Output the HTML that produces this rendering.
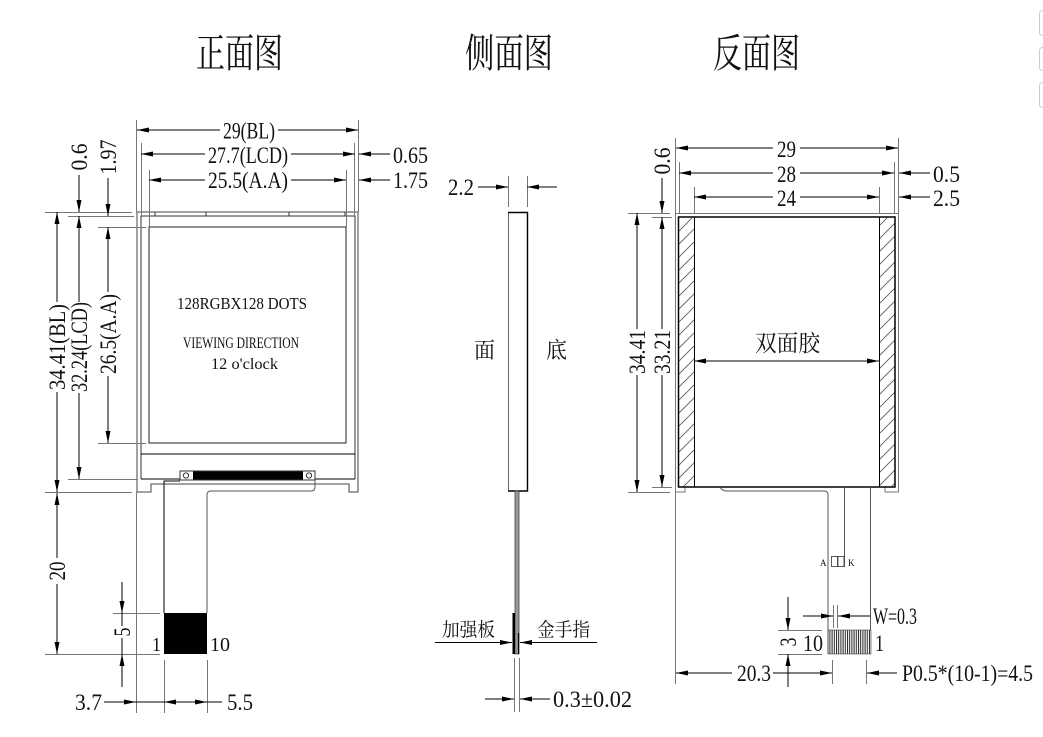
<!DOCTYPE html>
<html><head><meta charset="utf-8"><style>
html,body{margin:0;padding:0;background:#fff;}
svg{display:block;}
.d{stroke:#000;stroke-width:1;fill:none;marker-end:url(#a);}
.l{stroke:#000;stroke-width:1;fill:none;}
.e{stroke:#777;stroke-width:1;fill:none;}
.t{font-family:"Liberation Serif",serif;font-size:23px;fill:#111;}
.c{font-family:"Liberation Serif","Noto Serif CJK SC",serif;fill:#111;}
</style></head><body>
<svg width="1043" height="737" viewBox="0 0 1043 737" xmlns="http://www.w3.org/2000/svg">
<defs>
<marker id="a" viewBox="0 0 12 5" refX="12" refY="2.5" markerWidth="12" markerHeight="5" markerUnits="userSpaceOnUse" orient="auto"><path d="M0,0 L12,2.5 L0,5 Z" fill="#000"/></marker>
<pattern id="h" width="13" height="13" patternUnits="userSpaceOnUse"><path d="M0,13 L13,0 M-2,2 L2,-2 M11,15 L15,11" stroke="#555" stroke-width="0.8"/></pattern>
<pattern id="g" width="2.2" height="10" patternUnits="userSpaceOnUse"><rect width="1" height="10" fill="#222"/></pattern>
</defs>
<rect width="1043" height="737" fill="#fff"/>

<!-- Titles -->
<text class="c" x="196" y="67" font-size="40" textLength="87" lengthAdjust="spacingAndGlyphs">正面图</text>
<text class="c" x="465" y="67" font-size="40" textLength="88" lengthAdjust="spacingAndGlyphs">侧面图</text>
<text class="c" x="713" y="67" font-size="40" textLength="87" lengthAdjust="spacingAndGlyphs">反面图</text>

<!-- right edge artifacts -->
<rect x="1039.5" y="10.5" width="10" height="25" rx="3" fill="none" stroke="#ccc"/>
<rect x="1039.5" y="47.5" width="10" height="23" rx="3" fill="none" stroke="#ccc"/>
<rect x="1039.5" y="82.5" width="10" height="25" rx="3" fill="none" stroke="#ccc"/>

<!-- ================= FRONT VIEW ================= -->
<path d="M137,492 V212 H358 V492 H349 V484 H151 V492 Z" fill="none" stroke="#444" stroke-width="1"/>
<path d="M141,479 V216 H355 V479" fill="none" stroke="#333" stroke-width="1"/>
<path d="M141,479 H180 M315,479 H355" class="l"/>
<path d="M155,212 V216 H206 V212 M289,212 V216 H345 V212" fill="none" stroke="#333" stroke-width="1"/>
<rect x="149" y="227" width="197" height="216" fill="none" stroke="#222" stroke-width="1"/>
<path d="M141,454 H355" class="l"/>
<!-- connector -->
<rect x="180" y="471" width="135" height="9" fill="none" stroke="#333" stroke-width="1"/>
<rect x="193" y="471.5" width="110" height="8" fill="#000"/>
<circle cx="186" cy="475.5" r="2.6" fill="none" stroke="#333"/>
<circle cx="309" cy="475.5" r="2.6" fill="none" stroke="#333"/>
<!-- FPC -->
<path d="M180,481 H164 V613" class="l"/>
<path d="M315,480 V487 Q315,491 311,491 H211 Q207,491 207,495 V613" fill="none" stroke="#555" stroke-width="1"/>
<rect x="164" y="613" width="43" height="41" fill="#000"/>
<text class="t" x="152" y="651" style="font-size:20px" textLength="9" lengthAdjust="spacingAndGlyphs">1</text>
<text class="t" x="210" y="651" style="font-size:20px" textLength="20" lengthAdjust="spacingAndGlyphs">10</text>
<!-- inner texts -->
<text class="t" x="177" y="309" style="font-size:17px" textLength="130" lengthAdjust="spacingAndGlyphs">128RGBX128 DOTS</text>
<text class="t" x="183" y="348" style="font-size:16px" textLength="116" lengthAdjust="spacingAndGlyphs">VIEWING DIRECTION</text>
<text class="t" x="211" y="369" style="font-size:16px" textLength="67" lengthAdjust="spacingAndGlyphs">12 o'clock</text>

<!-- front top dims -->
<path class="e" d="M136.5,120 V212 M358.5,120 V212 M141.5,143 V216 M354.5,143 V216 M149.5,170 V227 M346.5,170 V227"/>
<path class="d" d="M220,130H137"/><path class="d" d="M278,130H358"/>
<text class="t" x="223" y="138.5" textLength="52" lengthAdjust="spacingAndGlyphs">29(BL)</text>
<path class="d" d="M205,154H141"/><path class="d" d="M291,154H355"/>
<text class="t" x="208" y="163" textLength="80" lengthAdjust="spacingAndGlyphs">27.7(LCD)</text>
<path class="d" d="M205,180H149"/><path class="d" d="M291,180H346"/>
<text class="t" x="208" y="188" textLength="80" lengthAdjust="spacingAndGlyphs">25.5(A.A)</text>
<path class="d" d="M390,154H359"/>
<text class="t" x="393" y="163" textLength="35" lengthAdjust="spacingAndGlyphs">0.65</text>
<path class="d" d="M390,180H359"/>
<text class="t" x="393" y="188" textLength="35" lengthAdjust="spacingAndGlyphs">1.75</text>

<!-- front left dims -->
<path class="e" d="M45,212.5H132 M68,216.5H134 M98,227.5H146 M98,443.5H146 M68,479.5H138 M45,492.5H132 M113,613.5H160 M45,654.5H160"/>
<path class="d" d="M57,302V212"/><path class="d" d="M57,392V492"/>
<text class="t" transform="translate(65,347) rotate(-90)" text-anchor="middle" textLength="86" lengthAdjust="spacingAndGlyphs">34.41(BL)</text>
<text class="t" transform="translate(87,157) rotate(-90)" text-anchor="middle" textLength="27" lengthAdjust="spacingAndGlyphs">0.6</text>
<path class="d" d="M79,175V212"/><path class="d" d="M79,302V216"/><path class="d" d="M79,393V479"/>
<text class="t" transform="translate(87,347) rotate(-90)" text-anchor="middle" textLength="90" lengthAdjust="spacingAndGlyphs">32.24(LCD)</text>
<text class="t" transform="translate(116,157) rotate(-90)" text-anchor="middle" textLength="35" lengthAdjust="spacingAndGlyphs">1.97</text>
<path class="d" d="M108,178V216"/><path class="d" d="M108,292V227"/><path class="d" d="M108,376V443"/>
<text class="t" transform="translate(116,334) rotate(-90)" text-anchor="middle" textLength="80" lengthAdjust="spacingAndGlyphs">26.5(A.A)</text>
<path class="d" d="M57,558V493"/><path class="d" d="M57,584V654"/>
<text class="t" transform="translate(65,571) rotate(-90)" text-anchor="middle" textLength="19" lengthAdjust="spacingAndGlyphs">20</text>
<path class="d" d="M122,582V613"/><path class="l" d="M122,613V626 M122,638V654"/><path class="d" d="M122,687V654"/>
<text class="t" transform="translate(130,632) rotate(-90)" text-anchor="middle" textLength="9" lengthAdjust="spacingAndGlyphs">5</text>

<!-- front bottom dims -->
<path class="e" d="M136.5,492V713 M164.5,660V713 M207.5,660V713"/>
<path class="d" d="M104,702H136"/><path class="l" d="M136,702H164 M207,702H222"/>
<path class="d" d="M186,702H164"/><path class="d" d="M186,702H207"/>
<text class="t" x="75" y="710" textLength="27" lengthAdjust="spacingAndGlyphs">3.7</text>
<text class="t" x="227" y="710" textLength="26" lengthAdjust="spacingAndGlyphs">5.5</text>

<!-- ================= SIDE VIEW ================= -->
<path d="M508.5,491 V212.5 H527" fill="none" stroke="#666" stroke-width="1"/>
<path d="M508,212.5 H527.5 V491 H508" fill="none" stroke="#000" stroke-width="1.4"/>
<path class="e" d="M508.5,176V207 M527.5,176V207"/>
<path class="d" d="M478,187H508"/><path class="d" d="M557,187H527"/>
<text class="t" x="448" y="195" textLength="26" lengthAdjust="spacingAndGlyphs">2.2</text>
<text class="c" x="474" y="358" font-size="22" textLength="21" lengthAdjust="spacingAndGlyphs">面</text>
<text class="c" x="546" y="358" font-size="22" textLength="21" lengthAdjust="spacingAndGlyphs">底</text>
<rect x="515" y="491" width="4" height="163" fill="#999" stroke="#444" stroke-width="0.8"/>
<rect x="512.5" y="613" width="2.5" height="41" fill="#000"/>
<path d="M518.5,633V654" stroke="#000" stroke-width="1.2"/>
<text class="c" x="442" y="636" font-size="19" textLength="53" lengthAdjust="spacingAndGlyphs">加强板</text>
<path class="d" d="M435,642.5H512"/>
<text class="c" x="537" y="636" font-size="19" textLength="53" lengthAdjust="spacingAndGlyphs">金手指</text>
<path class="d" d="M597,642.5H520"/>
<path class="e" d="M514.5,658V712 M519.5,658V712"/>
<path class="d" d="M485,699H514"/><path class="d" d="M550,699H520"/>
<text class="t" x="553" y="707" textLength="79" lengthAdjust="spacingAndGlyphs">0.3±0.02</text>

<!-- ================= BACK VIEW ================= -->
<rect x="679" y="218" width="15" height="269" fill="url(#h)"/>
<rect x="879" y="218" width="16" height="269" fill="url(#h)"/>
<path d="M675.5,492 V213.5 H898.5 V492 H885 V487.5 M675.5,492 H685 V487.5" fill="none" stroke="#777" stroke-width="1"/>
<rect x="678.5" y="217" width="216.5" height="270" fill="none" stroke="#000" stroke-width="1.5"/>
<path class="l" d="M694.5,217V487 M879.5,217V487"/>
<text class="c" x="755" y="351" font-size="23" textLength="65" lengthAdjust="spacingAndGlyphs">双面胶</text>
<path class="d" d="M787,361H694"/><path class="d" d="M787,361H879"/>
<!-- back FPC -->
<path d="M720,487 Q722,491 727,491 H824 Q828,491 828,495 V654" fill="none" stroke="#555" stroke-width="1"/>
<path d="M844.5,487V567 M870.5,487V630" fill="none" stroke="#555" stroke-width="1"/>
<rect x="831.5" y="556.5" width="6" height="10" fill="none" stroke="#333" stroke-width="0.8"/>
<rect x="838" y="556.5" width="6" height="10" fill="none" stroke="#333" stroke-width="0.8"/>
<text class="t" x="820" y="566" style="font-size:9px">A</text>
<text class="t" x="848" y="566" style="font-size:9px">K</text>
<rect x="828" y="630" width="43" height="24" fill="url(#g)"/>
<rect x="828" y="630" width="43" height="24" fill="none" stroke="#444" stroke-width="0.6"/>
<!-- W=0.3 -->
<path class="e" d="M833.5,605V628 M837.5,605V628"/>
<path class="d" d="M803,616H833"/><path class="d" d="M870,616H838"/>
<text class="t" x="873" y="624" textLength="44" lengthAdjust="spacingAndGlyphs">W=0.3</text>
<!-- 3 -->
<path class="e" d="M778,630.5H822 M778,654.5H822"/>
<path class="d" d="M788,597V630"/><path class="d" d="M788,687V654"/>
<text class="t" transform="translate(796,642) rotate(-90)" text-anchor="middle" textLength="9" lengthAdjust="spacingAndGlyphs">3</text>
<text class="t" x="803" y="651" textLength="20" lengthAdjust="spacingAndGlyphs">10</text>
<text class="t" x="875" y="651" textLength="9" lengthAdjust="spacingAndGlyphs">1</text>
<!-- 20.3 / pitch -->
<path class="e" d="M675.5,492V684 M832.5,660V684 M866.5,660V684"/>
<path class="d" d="M732,673H676"/><path class="d" d="M773,673H832"/><path class="d" d="M897,673H867"/>
<text class="t" x="737" y="681" textLength="34" lengthAdjust="spacingAndGlyphs">20.3</text>
<text class="t" x="902" y="681" textLength="131" lengthAdjust="spacingAndGlyphs">P0.5*(10-1)=4.5</text>
<!-- back top dims -->
<path class="e" d="M675.5,138V213 M898.5,138V213 M679.5,162V213 M894.5,162V213 M694.5,187V213 M879.5,187V213"/>
<path class="d" d="M773,148H676"/><path class="d" d="M800,148H898"/>
<text class="t" x="777" y="157" textLength="19" lengthAdjust="spacingAndGlyphs">29</text>
<path class="d" d="M773,173H679"/><path class="d" d="M800,173H894"/>
<text class="t" x="777" y="182" textLength="19" lengthAdjust="spacingAndGlyphs">28</text>
<path class="d" d="M773,197H694"/><path class="d" d="M800,197H879"/>
<text class="t" x="777" y="206" textLength="19" lengthAdjust="spacingAndGlyphs">24</text>
<path class="d" d="M930,173H899"/>
<text class="t" x="933" y="182" textLength="27" lengthAdjust="spacingAndGlyphs">0.5</text>
<path class="d" d="M930,197H899"/>
<text class="t" x="933" y="206" textLength="27" lengthAdjust="spacingAndGlyphs">2.5</text>
<!-- back left dims -->
<path class="e" d="M628,213.5H670 M652,217.5H672 M652,487.5H672 M628,492.5H670"/>
<text class="t" transform="translate(670,161) rotate(-90)" text-anchor="middle" textLength="27" lengthAdjust="spacingAndGlyphs">0.6</text>
<path class="d" d="M662,178V213"/><path class="d" d="M662,329V217"/><path class="d" d="M662,375V487"/>
<text class="t" transform="translate(670,352) rotate(-90)" text-anchor="middle" textLength="44" lengthAdjust="spacingAndGlyphs">33.21</text>
<path class="d" d="M637,329V213"/><path class="d" d="M637,375V492"/>
<text class="t" transform="translate(645,352) rotate(-90)" text-anchor="middle" textLength="44" lengthAdjust="spacingAndGlyphs">34.41</text>
</svg>
</body></html>
